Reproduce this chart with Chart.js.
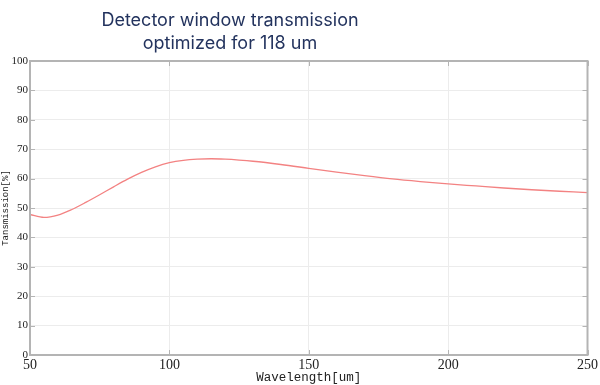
<!DOCTYPE html>
<html>
<head>
<meta charset="utf-8">
<script src="https://cdn.jsdelivr.net/npm/chart.js@4"></script>
<style>
  body { margin: 0; background: #fff; }
  #wrap { position: relative; width: 600px; height: 385px; }
  #judul {
    position: absolute; left: 80px; top: 8px; width: 300px;
    text-align: center; font-family: Inter, "Open Sans", sans-serif;
    font-weight: 400; font-size: 18px; line-height: 23px; color: #23335e;
  }
</style>
</head>
<body>
<div id="wrap">
  <canvas id="grafik" width="600" height="385"></canvas>
  <div id="judul">Detector window transmission<br>optimized for 118 um</div>
</div>
<script>
// data
const panjangGelombang = [50, 55, 60, 65, 70, 75, 80, 85, 90, 95, 100, 105, 110, 115, 120, 125, 130, 140, 150, 160, 170, 180, 190, 200, 210, 220, 230, 240, 250];
const transmisi = [47.8, 46.8, 47.6, 49.5, 51.9, 54.5, 57.2, 59.8, 62.1, 64.0, 65.4, 66.2, 66.6, 66.75, 66.6, 66.3, 65.9, 64.8, 63.5, 62.2, 61.0, 59.9, 59.0, 58.2, 57.5, 56.8, 56.2, 55.7, 55.2];
const tickX = [50, 100, 150, 200, 250];
const tickY = [0, 10, 20, 30, 40, 50, 60, 70, 80, 90, 100];

const titik = panjangGelombang.map((x, i) => ({ x: x, y: transmisi[i] }));

// gambar kotak dan tick ke dalam
const kotakPlugin = {
    id: 'kotak',
    afterDatasetsDraw(chart) {
        const ctx = chart.ctx;
        const a = chart.chartArea;
        const sx = chart.scales.x;
        const sy = chart.scales.y;
        ctx.save();
        ctx.strokeStyle = '#b4b4b4';
        ctx.lineWidth = 1;
        tickX.forEach((v) => {
            const px = Math.round(sx.getPixelForValue(v)) + 0.5;
            ctx.beginPath();
            ctx.moveTo(px, a.top); ctx.lineTo(px, a.top + 5);
            ctx.moveTo(px, a.bottom); ctx.lineTo(px, a.bottom - 5);
            ctx.stroke();
        });
        tickY.forEach((v) => {
            const py = Math.round(sy.getPixelForValue(v)) + 0.5;
            ctx.beginPath();
            ctx.moveTo(a.left, py); ctx.lineTo(a.left + 5, py);
            ctx.moveTo(a.right, py); ctx.lineTo(a.right - 5, py);
            ctx.stroke();
        });
        ctx.lineWidth = 2;
        ctx.strokeRect(a.left, a.top, a.right - a.left, a.bottom - a.top);
        ctx.restore();
    }
};

new Chart(document.getElementById('grafik').getContext('2d'), {
    type: 'line',
    data: {
        datasets: [{
            data: titik,
            borderColor: 'rgba(243, 130, 130, 1)',
            borderWidth: 1.3,
            pointRadius: 0,
            cubicInterpolationMode: 'monotone',
            fill: false
        }]
    },
    options: {
        responsive: false,
        animation: false,
        layout: { padding: { top: 61, right: 8, left: 0, bottom: 0 } },
        plugins: { legend: { display: false }, tooltip: { enabled: false } },
        scales: {
            x: {
                type: 'linear', min: 50, max: 250,
                afterBuildTicks: (s) => { s.ticks = tickX.map((v) => ({ value: v })); },
                afterFit: (s) => { s.height = 30; },
                grid: { color: '#ececec', drawTicks: false },
                border: { display: false },
                ticks: { padding: 2, color: '#222', font: { family: '"Liberation Serif", serif', size: 14 } },
                title: { display: true, text: 'Wavelength[um]', color: '#222', padding: 0,
                    font: { family: '"Liberation Mono", monospace', size: 12.5 } }
            },
            y: {
                min: 0, max: 100,
                afterBuildTicks: (s) => { s.ticks = tickY.map((v) => ({ value: v })); },
                afterFit: (s) => { s.width = 30; },
                grid: { color: '#ececec', drawTicks: false },
                border: { display: false },
                ticks: { padding: 2, color: '#222', font: { family: '"Liberation Serif", serif', size: 11 } },
                title: { display: true, text: 'Tansmission[%]', color: '#222', padding: 0,
                    font: { family: '"Liberation Mono", monospace', size: 9 } }
            }
        }
    },
    plugins: [kotakPlugin]
});
</script>
</body>
</html>
